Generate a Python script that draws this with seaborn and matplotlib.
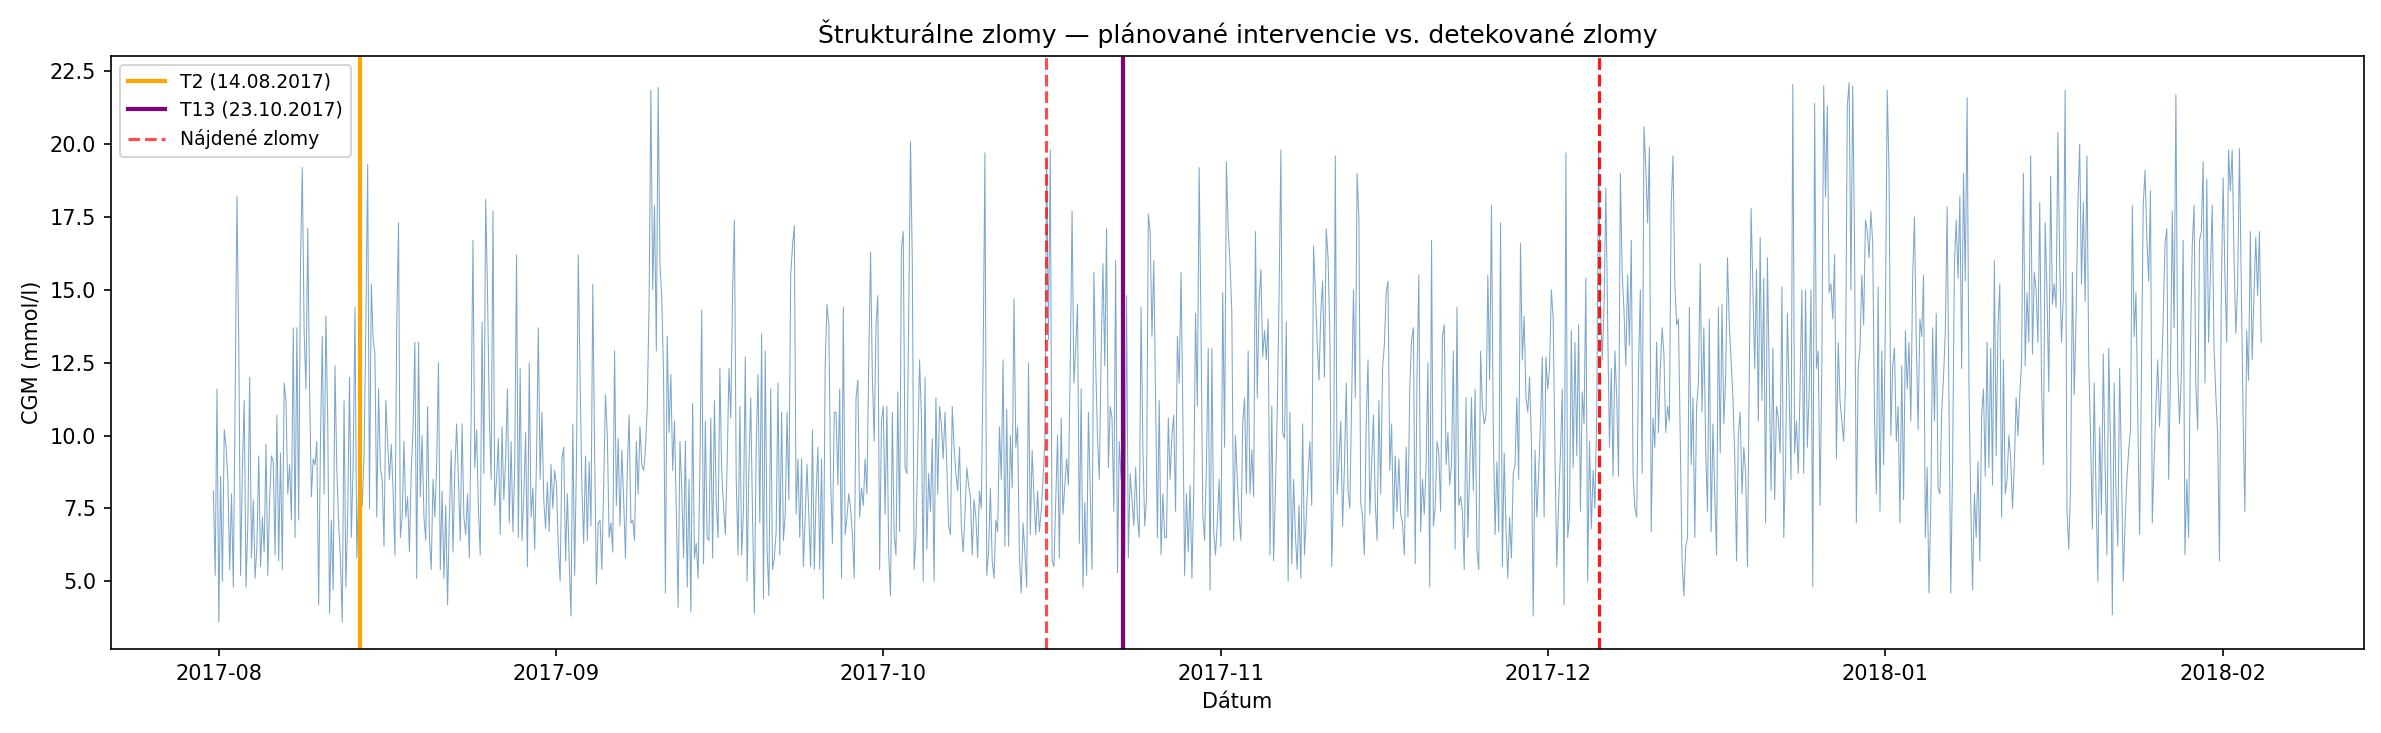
import matplotlib
matplotlib.use("Agg")
import matplotlib.pyplot as plt
import seaborn as sns
import pandas as pd

# CGM readings (mmol/l), 4-hour steps
jul = [8.1, 5.2, 11.6]
aug = [
    3.6, 8.6, 5.0, 10.2, 9.6, 8.5,
    5.4, 8.0, 4.8, 11.2, 18.2, 13.2,
    5.2, 8.9, 11.2, 4.8, 7.0, 12.0,
    5.8, 7.8, 5.1, 6.2, 9.3, 5.5,
    7.2, 6.0, 9.7, 5.2, 7.8, 9.3,
    9.1, 5.9, 10.7, 5.7, 9.4, 5.4,
    11.8, 11.2, 8.0, 9.0, 7.1, 13.7,
    6.5, 13.7, 7.1, 15.9, 19.2, 13.6,
    11.6, 17.1, 11.6, 7.9, 9.2, 9.0,
    9.8, 4.2, 9.8, 13.4, 8.0, 14.1,
    10.5, 3.9, 7.1, 4.7, 12.4, 8.9,
    7.0, 5.8, 3.6, 11.2, 4.8, 7.2,
    12.0, 6.5, 9.0, 14.4, 5.8, 8.2,
    9.1, 7.6, 9.3, 13.8, 19.3, 7.5,
    15.2, 13.3, 12.8, 7.2, 11.6, 8.9,
    8.5, 6.2, 11.2, 9.8, 8.5, 9.7,
    8.1, 5.9, 13.8, 17.3, 6.5, 7.2,
    9.8, 7.2, 7.9, 6.0, 8.8, 10.2,
    13.2, 5.1, 13.2, 7.9, 10.0, 7.2,
    6.4, 11.0, 6.5, 5.4, 8.5, 7.2,
    9.0, 12.5, 5.4, 8.1, 5.1, 7.6,
    4.2, 7.2, 9.5, 6.0, 8.8, 10.4,
    8.5, 6.4, 10.4, 7.2, 6.6, 8.0,
    5.8, 10.8, 16.7, 8.9, 10.2, 7.5,
    5.9, 13.9, 8.7, 18.1, 15.0, 10.7,
    8.5, 17.7, 7.6, 8.5, 9.9, 6.6,
    10.3, 7.8, 9.2, 11.6, 7.0, 9.8,
    6.7, 9.0, 16.2, 6.5, 12.3, 6.4,
    7.9, 10.1, 5.5, 12.5, 7.2, 8.2,
    6.1, 9.2, 13.7, 8.5, 10.8, 7.8,
    6.8, 8.4, 6.7, 9.0, 7.5, 8.8,
]
sep = [
    8.3, 6.2, 5.0, 9.2, 9.6, 5.7,
    8.0, 5.7, 3.8, 10.4, 5.2, 9.1,
    16.2, 12.0, 8.2, 6.3, 9.3, 6.4,
    9.1, 6.9, 15.2, 9.4, 4.9, 7.0,
    7.1, 5.4, 8.3, 11.4, 10.0, 6.5,
    7.0, 6.0, 12.9, 7.6, 9.9, 6.9,
    9.5, 7.8, 5.8, 8.8, 10.7, 7.0,
    7.1, 6.4, 9.8, 8.0, 10.3, 9.0,
    8.8, 9.5, 11.0, 14.5, 21.85, 15.0,
    17.9, 12.9, 21.95, 15.9, 14.7, 12.0,
    4.6, 13.4, 10.1, 12.1, 8.8, 10.5,
    7.4, 4.1, 9.8, 8.2, 5.8, 9.8,
    4.8, 8.5, 3.95, 11.1, 5.8, 6.3,
    5.1, 8.9, 14.3, 5.6, 10.5, 6.5,
    6.4, 10.6, 5.8, 11.2, 7.7, 6.5,
    12.3, 8.8, 7.6, 6.6, 9.0, 12.3,
    10.6, 14.9, 17.4, 8.5, 5.9, 11.0,
    5.9, 7.4, 12.7, 5.0, 8.9, 11.3,
    7.2, 3.9, 9.6, 12.1, 7.0, 13.5,
    4.4, 12.9, 6.1, 4.5, 11.6, 5.4,
    5.8, 6.7, 11.8, 5.9, 10.8, 6.4,
    7.3, 10.8, 7.8, 15.5, 16.5, 17.2,
    7.3, 9.2, 6.5, 9.2, 5.5, 7.2,
    9.0, 7.2, 5.5, 10.2, 5.4, 8.0,
    9.6, 5.4, 9.2, 4.4, 12.4, 14.5,
    13.8, 8.5, 6.3, 10.8, 10.8, 8.3,
    11.6, 5.1, 14.4, 6.6, 7.2, 8.0,
    7.5, 6.6, 5.1, 11.3, 11.9, 7.2,
    8.2, 7.6, 9.2, 8.0, 12.5, 16.3,
    12.0, 9.8, 13.8, 14.8, 5.4, 10.5,
]
oct_ = [
    11.0, 7.3, 11.0, 5.9, 4.5, 10.8,
    6.6, 5.9, 11.5, 6.7, 16.4, 17.0,
    8.9, 8.7, 14.0, 20.1, 15.9, 5.4,
    6.5, 9.5, 12.6, 10.7, 5.0, 12.0,
    6.1, 8.7, 7.4, 9.9, 5.0, 11.3,
    8.0, 11.0, 10.4, 9.2, 10.8, 9.0,
    6.9, 6.6, 11.0, 9.6, 8.7, 8.1,
    9.6, 6.9, 6.0, 7.3, 8.9, 8.3,
    7.9, 5.9, 7.8, 7.2, 5.8, 8.1,
    7.5, 12.5, 19.7, 5.2, 6.0, 8.2,
    5.7, 5.1, 7.1, 6.7, 10.3, 8.5,
    12.6, 6.2, 10.9, 6.2, 10.0, 8.2,
    14.7, 9.6, 10.3, 5.8, 4.6, 7.0,
    6.0, 4.8, 12.5, 6.6, 9.5, 7.9,
    6.6, 8.1, 6.7, 7.4, 8.5, 9.8,
    19.45, 13.3, 19.8, 5.7, 5.5, 7.7,
    10.0, 5.8, 10.6, 7.3, 8.3, 9.2,
    8.3, 12.4, 17.7, 11.8, 13.0, 14.5,
    6.3, 11.6, 4.8, 7.7, 5.2, 10.8,
    8.1, 5.4, 15.6, 12.5, 9.9, 8.5,
    12.8, 15.9, 12.4, 17.1, 8.9, 11.0,
    10.6, 7.4, 16.0, 5.3, 9.8, 8.5,
    11.2, 5.8, 14.8, 5.8, 8.7, 7.8,
    6.9, 8.9, 7.2, 6.5, 14.4, 9.6,
    6.9, 7.8, 17.6, 17.0, 13.4, 16.0,
    11.3, 6.5, 11.2, 5.9, 8.0, 6.5,
    6.5, 10.6, 8.5, 10.0, 10.7, 7.4,
    13.4, 11.8, 15.6, 10.8, 5.2, 8.0,
    6.0, 8.3, 5.1, 8.0, 14.2, 11.0,
    19.2, 13.8, 7.3, 6.4, 9.0, 13.0,
    4.7, 13.0, 6.7, 5.9, 7.0, 8.5,
]
nov = [
    6.2, 14.9, 9.6, 19.4, 17.1, 15.9,
    14.2, 6.4, 10.0, 8.5, 7.2, 6.4,
    10.4, 11.3, 8.0, 12.9, 8.0, 9.5,
    7.9, 17.0, 11.3, 14.6, 15.7, 12.7,
    13.6, 12.6, 14.0, 5.9, 11.0, 5.7,
    8.1, 10.8, 14.7, 19.8, 10.1, 9.9,
    13.9, 5.0, 10.8, 5.6, 8.5, 6.6,
    5.4, 7.6, 5.1, 10.4, 5.9, 7.2,
    8.7, 9.8, 7.6, 16.5, 15.0, 13.2,
    11.9, 14.2, 15.3, 12.0, 17.1, 16.1,
    13.4, 5.5, 8.0, 19.6, 8.0, 9.1,
    10.5, 6.9, 8.9, 11.8, 8.1, 7.5,
    11.3, 15.0, 11.3, 19.0, 17.4, 7.7,
    7.2, 5.9, 10.4, 12.6, 7.3, 9.0,
    10.7, 7.7, 6.4, 11.2, 8.0, 12.3,
    13.1, 14.9, 15.3, 8.8, 10.4, 6.8,
    9.3, 7.4, 9.2, 7.3, 7.0, 5.9,
    9.6, 7.2, 11.6, 13.3, 13.7, 5.6,
    12.0, 15.5, 6.7, 8.5, 7.3, 9.0,
    12.5, 4.8, 16.7, 6.9, 7.5, 9.8,
    9.4, 7.4, 13.4, 13.8, 9.0, 10.1,
    8.3, 9.0, 12.9, 6.1, 14.4, 7.6,
    7.9, 7.4, 5.4, 11.3, 6.5, 8.8,
    11.3, 8.1, 11.6, 6.1, 5.4, 12.9,
    11.0, 10.4, 10.7, 15.5, 11.9, 17.9,
    10.2, 6.6, 9.1, 6.7, 17.3, 5.5,
    9.4, 6.8, 5.1, 7.2, 5.8, 8.7,
    9.0, 11.3, 8.5, 16.6, 12.6, 14.1,
    11.3, 10.8, 12.0, 9.8, 3.8, 9.5,
    7.2, 8.7, 10.4, 12.7, 7.2, 12.7,
]
dec = [
    11.6, 12.3, 15.0, 14.0, 9.3, 5.5,
    7.7, 9.4, 11.6, 4.2, 19.7, 6.5,
    7.2, 13.6, 8.9, 13.2, 9.3, 13.8,
    7.4, 11.5, 10.4, 15.4, 5.0, 9.8,
    6.8, 8.8, 7.5, 10.8, 20.0, 14.6,
    12.6, 14.4, 18.5, 13.9, 9.6, 12.3,
    8.6, 12.9, 11.3, 8.6, 19.0, 15.6,
    14.3, 12.4, 15.5, 13.1, 16.7, 8.7,
    7.5, 7.2, 12.3, 15.0, 8.7, 20.6,
    19.2, 17.3, 19.9, 6.7, 10.6, 9.6,
    13.2, 10.1, 12.3, 13.7, 12.8, 10.1,
    11.0, 10.5, 17.9, 19.6, 15.2, 13.8,
    14.0, 9.8, 5.7, 4.5, 6.2, 6.5,
    14.4, 9.0, 11.3, 6.5, 11.0, 11.8,
    15.9, 10.8, 13.7, 9.5, 7.4, 14.0,
    6.7, 10.4, 8.0, 5.9, 14.4, 9.4,
    14.5, 10.4, 12.0, 16.1, 13.8, 12.6,
    11.3, 9.3, 5.7, 10.1, 10.8, 8.0,
    9.6, 8.7, 5.5, 12.0, 17.8, 15.0,
    12.3, 15.7, 10.5, 16.8, 11.2, 15.4,
    7.0, 16.1, 12.0, 8.1, 13.0, 7.8,
    11.0, 10.6, 9.4, 15.1, 6.5, 9.0,
    14.2, 11.3, 8.5, 22.05, 9.4, 10.5,
    8.7, 11.7, 15.0, 8.7, 15.0, 9.6,
    11.5, 15.0, 4.8, 21.4, 12.3, 12.9,
    7.6, 12.5, 22.0, 18.2, 21.3, 14.9,
    15.2, 14.0, 16.2, 9.2, 13.2, 11.2,
    10.5, 9.8, 11.7, 21.3, 22.11, 15.0,
    22.0, 16.5, 7.0, 12.3, 13.0, 15.5,
    13.8, 17.4, 17.0, 16.1, 17.7, 16.6,
    10.6, 8.0, 15.1, 7.4, 12.9, 9.0,
]
jan = [
    14.1, 21.85, 19.0, 10.0, 12.4, 13.0,
    9.8, 11.0, 7.0, 12.4, 7.8, 13.6,
    11.6, 13.2, 10.5, 15.4, 17.5, 13.2,
    10.2, 14.0, 13.4, 15.5, 6.5, 8.9,
    4.6, 7.5, 13.7, 10.5, 14.2, 8.2,
    8.0, 10.8, 12.0, 13.6, 17.85, 11.2,
    4.6, 9.0, 15.9, 17.4, 15.4, 18.2,
    12.3, 19.0, 15.3, 21.6, 11.8, 7.7,
    4.7, 8.0, 6.5, 9.1, 5.7, 10.7,
    11.6, 8.6, 13.2, 8.9, 13.0, 8.3,
    16.0, 9.3, 13.8, 15.2, 7.2, 12.6,
    8.0, 8.5, 10.0, 9.2, 7.5, 9.0,
    11.3, 10.0, 11.4, 12.5, 19.0, 12.4,
    14.9, 13.2, 19.6, 12.8, 15.6, 15.0,
    13.2, 18.0, 11.8, 9.0, 17.3, 14.9,
    11.5, 18.9, 14.5, 15.2, 14.4, 20.4,
    15.9, 13.2, 14.8, 21.85, 7.4, 6.1,
    8.3, 15.6, 11.4, 14.0, 17.9, 20.0,
    15.2, 18.0, 14.6, 19.6, 12.5, 10.0,
    6.8, 11.8, 8.0, 5.0, 10.3, 7.3,
    12.8, 9.0, 5.9, 13.0, 9.6, 3.85,
    11.8, 8.0, 6.2, 12.3, 9.0, 5.0,
    7.0, 8.5, 9.5, 10.2, 17.9, 13.4,
    14.9, 10.8, 6.6, 12.0, 17.9, 19.1,
    16.8, 15.3, 18.4, 7.0, 9.2, 11.0,
    12.6, 10.3, 12.0, 14.0, 16.6, 17.1,
    8.5, 12.0, 17.7, 13.7, 21.7, 12.3,
    10.4, 12.1, 16.7, 5.9, 8.5, 6.5,
    13.0, 16.5, 17.9, 11.7, 10.2, 16.7,
    17.0, 19.4, 11.8, 18.8, 13.2, 15.5,
    17.9, 13.0, 11.4, 10.0, 5.7, 14.8,
]
feb = [
    18.85, 15.5, 13.2, 19.8, 18.4, 19.8,
    16.2, 13.5, 15.1, 19.85, 15.2, 10.7,
    7.4, 13.6, 11.9, 17.0, 12.6, 14.8,
    16.8, 14.8, 17.0, 13.2,
]
month_starts = ["2017-07-31 12:00", "2017-08-01", "2017-09-01", "2017-10-01",
                "2017-11-01", "2017-12-01", "2018-01-01", "2018-02-01"]
month_values = [jul, aug, sep, oct_, nov, dec, jan, feb]

interventions = ["2017-08-14", "2017-10-23"]
intervention_labels = ["T2 (14.08.2017)", "T13 (23.10.2017)"]
intervention_colors = ["orange", "purple"]
breaks = ["2017-10-15 22:00", "2017-12-05 17:00", "2017-12-05 18:00"]

frames = []
for start, vals in zip(month_starts, month_values):
    frames.append(pd.DataFrame({
        "time": pd.date_range(start, periods=len(vals), freq="4h"),
        "cgm": vals,
    }))
df = pd.concat(frames, ignore_index=True)

fig, ax = plt.subplots(figsize=(2381 / 150, 733 / 150), dpi=150)
fig.subplots_adjust(left=0.0466, right=0.9927, top=0.924, bottom=0.1146)

sns.lineplot(data=df, x="time", y="cgm", ax=ax, estimator=None,
             color="steelblue", linewidth=0.5, alpha=0.7)

for d, lab, col in zip(interventions, intervention_labels, intervention_colors):
    ax.axvline(pd.Timestamp(d), color=col, linewidth=2, label=lab)
for i, d in enumerate(breaks):
    ax.axvline(pd.Timestamp(d), color="red", linestyle="--", linewidth=1.5,
               alpha=0.7, label="Nájdené zlomy" if i == 0 else None)

ax.set_title("Štrukturálne zlomy — plánované intervencie vs. detekované zlomy")
ax.set_xlabel("Dátum")
ax.set_ylabel("CGM (mmol/l)")
ax.legend(loc="upper left", fontsize=9)

fig.savefig("out.png", dpi=150)
